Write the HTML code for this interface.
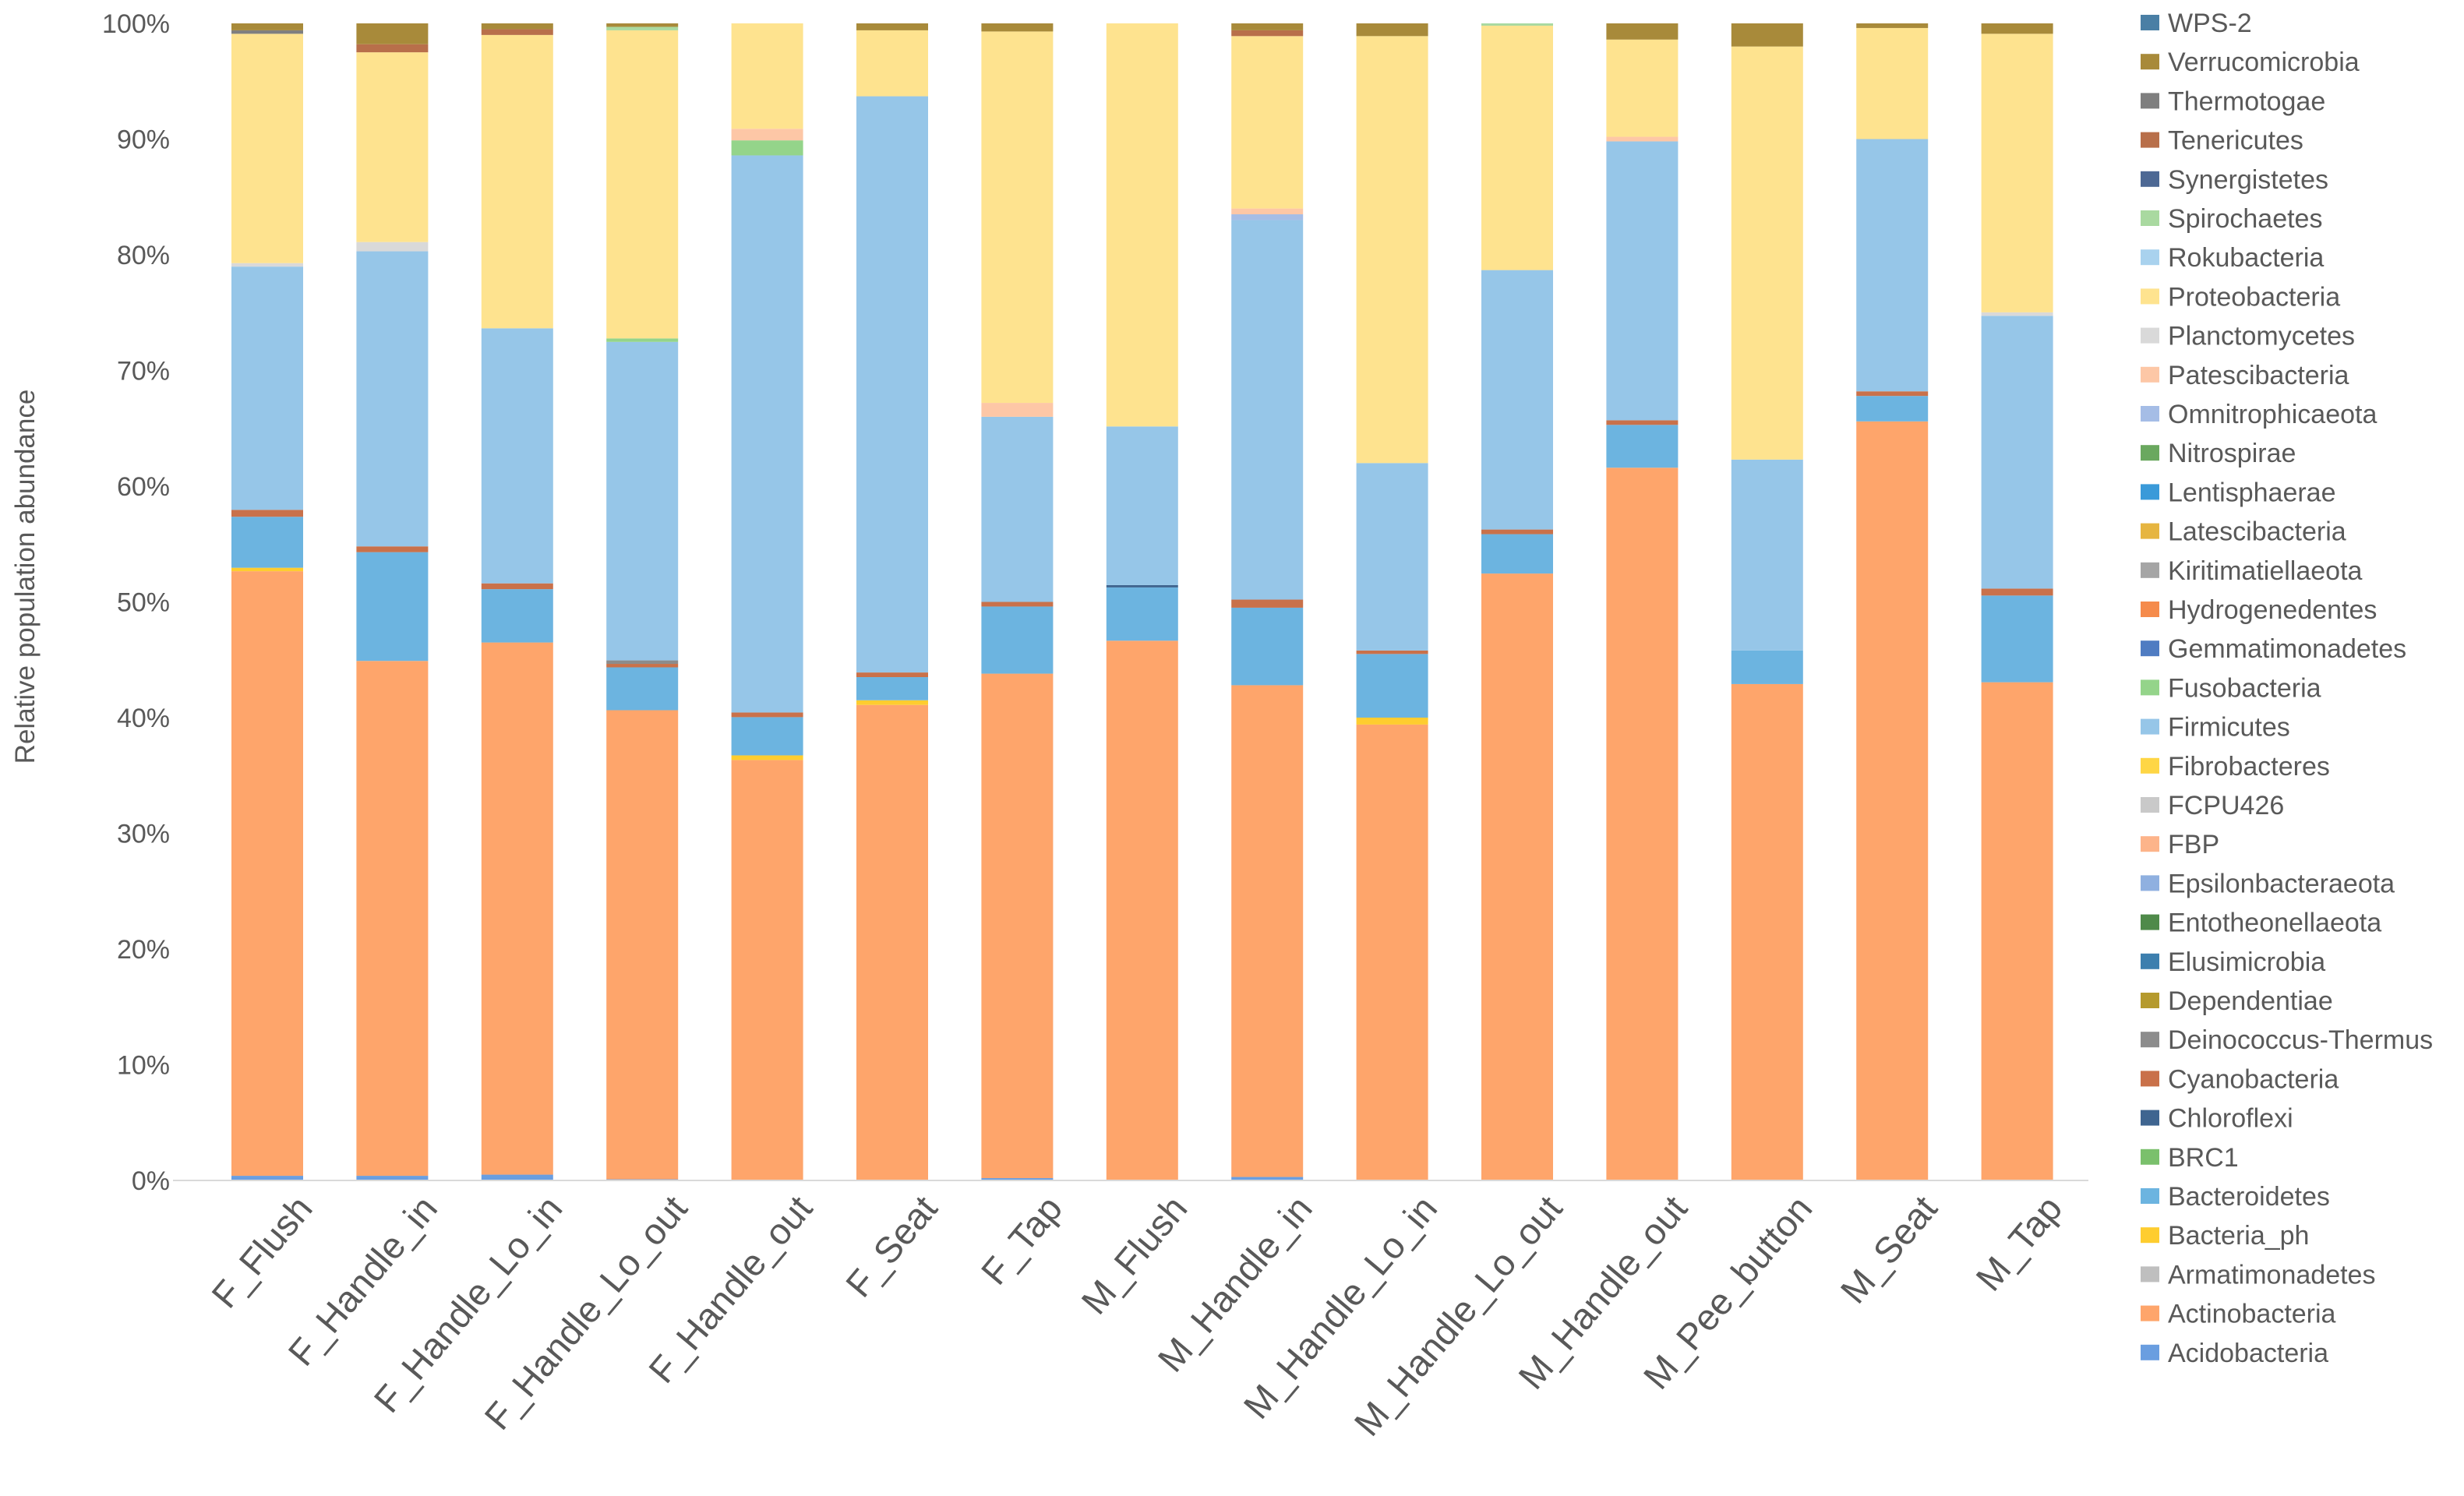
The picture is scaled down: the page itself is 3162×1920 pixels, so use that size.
<!DOCTYPE html>
<html><head><meta charset="utf-8"><style>
html,body{margin:0;padding:0;background:#fff;}
svg{display:block;font-family:"Liberation Sans",sans-serif;}
</style></head><body>
<svg id="chart" width="3162" height="1920" viewBox="0 0 3162 1920"></svg>
<script>
const categories=["F_Flush","F_Handle_in","F_Handle_Lo_in","F_Handle_Lo_out","F_Handle_out","F_Seat","F_Tap","M_Flush","M_Handle_in","M_Handle_Lo_in","M_Handle_Lo_out","M_Handle_out","M_Pee_button","M_Seat","M_Tap"];
const yTicks=[0,10,20,30,40,50,60,70,80,90,100];
const seriesNames=["Acidobacteria","Actinobacteria","Armatimonadetes","Bacteria_ph","Bacteroidetes","BRC1","Chloroflexi","Cyanobacteria","Deinococcus-Thermus","Dependentiae","Elusimicrobia","Entotheonellaeota","Epsilonbacteraeota","FBP","FCPU426","Fibrobacteres","Firmicutes","Fusobacteria","Gemmatimonadetes","Hydrogenedentes","Kiritimatiellaeota","Latescibacteria","Lentisphaerae","Nitrospirae","Omnitrophicaeota","Patescibacteria","Planctomycetes","Proteobacteria","Rokubacteria","Spirochaetes","Synergistetes","Tenericutes","Thermotogae","Verrucomicrobia","WPS-2"];
const seriesColors=["#6a9ee0","#fea56b","#bfbfbf","#fecd2f","#6cb4e0","#7ac06c","#3f6590","#c9714a","#8c8c8c","#b59a2e","#3d7fae","#4f8a4a","#8fb0e0","#fdb48a","#c9c9c9","#fed645","#96c6e8","#94d48a","#4f7cc2","#f58b4c","#a5a5a5","#e6b540","#3a9ad9","#6aa85f","#a5bde6","#fdc7a6","#d9d9d9","#fee38f","#a9d2ee","#a9d9a0","#4d6894","#b86f4a","#7f7f7f","#a88a3a","#4a7fa5"];
const acidobacteria=[0.4,0.4,0.5,0.1,0,0,0.2,0,0.3,0,0,0,0,0,0];
const actinobacteria=[52.2,44.5,45.9,40.5,36.3,41.1,43.6,46.6,42.5,39.4,52.4,61.6,42.9,65.6,43.1];
const bacteriaPh=[0.3,0,0,0,0.4,0.4,0,0,0,0.6,0,0,0,0,0];
const bacteroidetes=[4.4,9.4,4.6,3.7,3.3,2.0,5.8,4.6,6.7,5.5,3.4,3.7,2.9,2.2,7.5];
const chloroflexi=[0,0,0,0,0,0,0,0.2,0,0,0,0,0,0,0];
const cyanobacteria=[0.6,0.5,0.5,0.3,0.4,0.4,0.4,0,0.7,0.3,0.4,0.4,0,0.4,0.6];
const thermusDeino=[0,0,0,0.3,0,0,0,0,0,0,0,0,0,0,0];
const firmicutes=[21.0,25.5,22.0,27.5,48.1,49.8,16.0,13.7,32.8,16.2,22.4,24.1,16.5,21.8,23.6];
const fusobacteria=[0,0,0,0.3,1.3,0,0,0,0,0,0,0,0,0,0];
const omnitrophicaeota=[0,0,0,0,0,0,0,0,0.5,0,0,0,0,0,0];
const patescibacteria=[0,0,0,0,1.0,0,1.2,0,0.5,0,0,0.4,0,0,0];
const planctomycetes=[0.3,0.8,0,0,0,0,0,0,0,0,0,0,0,0,0.3];
const proteobacteria=[19.8,16.4,25.3,26.6,9.1,5.7,32.1,34.8,14.9,36.9,21.1,8.4,35.7,9.6,24.1];
const spirochaetes=[0,0,0,0.3,0,0,0,0,0,0,0.2,0,0,0,0];
const tenericutes=[0,0.7,0.5,0,0,0,0,0,0.5,0,0,0,0,0,0];
const thermotogae=[0.3,0,0,0,0,0,0,0,0,0,0,0,0,0,0];
const verrucomicrobia=[0.6,1.8,0.5,0.3,0,0.6,0.7,0,0.6,1.1,0,1.4,2.0,0.4,0.9];
const zeros=categories.map(()=>0);
const seriesValues={"Acidobacteria":acidobacteria,"Actinobacteria":actinobacteria,"Bacteria_ph":bacteriaPh,"Bacteroidetes":bacteroidetes,"Chloroflexi":chloroflexi,"Cyanobacteria":cyanobacteria,"Deinococcus-Thermus":thermusDeino,"Firmicutes":firmicutes,"Fusobacteria":fusobacteria,"Omnitrophicaeota":omnitrophicaeota,"Patescibacteria":patescibacteria,"Planctomycetes":planctomycetes,"Proteobacteria":proteobacteria,"Spirochaetes":spirochaetes,"Tenericutes":tenericutes,"Thermotogae":thermotogae,"Verrucomicrobia":verrucomicrobia};

const NS="http://www.w3.org/2000/svg";
const svg=document.getElementById('chart');
const y0=1515,y100=30,x0=343,step=160.4,bw=92;
function yScale(v){return y0-(y0-y100)*v/100;}
function xScale(i){return x0+i*step;}
function mk(tag,attrs,parent){const e=document.createElementNS(NS,tag);for(const k in attrs)e.setAttribute(k,attrs[k]);(parent||svg).appendChild(e);return e;}

yTicks.forEach(t=>{
  const tx=mk('text',{x:218,y:yScale(t)+12,'text-anchor':'end','font-size':34,fill:'#595959'});
  tx.textContent=t+'%';
  
  
});
const yt=mk('text',{x:0,y:0,transform:'translate(44,740) rotate(-90)','text-anchor':'middle','font-size':35,fill:'#595959'});
yt.textContent='Relative population abundance';



categories.forEach((c,i)=>{
  const g=mk('g',{});
  
  
  let total=0;
  seriesNames.forEach(s=>{total+=(seriesValues[s]||zeros)[i];});
  if(total<=0)total=1;
  let cum=0;
  seriesNames.forEach((s,k)=>{
    const v=(seriesValues[s]||zeros)[i]/total*100;
    if(!v)return;
    const r=mk('rect',{x:xScale(i)-bw/2,y:yScale(cum+v),width:bw,height:yScale(cum)-yScale(cum+v),fill:seriesColors[k]},g);
    
    
    cum+=v;
  });
  const lx=xScale(i)+60,ly=1552;
  const t=mk('text',{x:lx,y:ly,transform:'rotate(-50 '+lx+' '+ly+')','text-anchor':'end','font-size':47,fill:'#595959'});
  t.textContent=c;
  
  
});
const ax=mk('line',{x1:222,x2:2680,y1:y0,y2:y0,stroke:'#d9d9d9','stroke-width':2});



const lg=mk('g',{});


const rev=seriesNames.slice().reverse();
rev.forEach((s,j)=>{
  const k=seriesNames.length-1-j;
  const cy=29+j*50.2;
  const e=mk('g',{},lg);
  
  
  mk('rect',{x:2747,y:cy-10,width:24,height:20,fill:seriesColors[k]},e);
  const t=mk('text',{x:2782,y:cy+12,'font-size':34,fill:'#595959'},e);
  t.textContent=s;
});
</script>
</body></html>
